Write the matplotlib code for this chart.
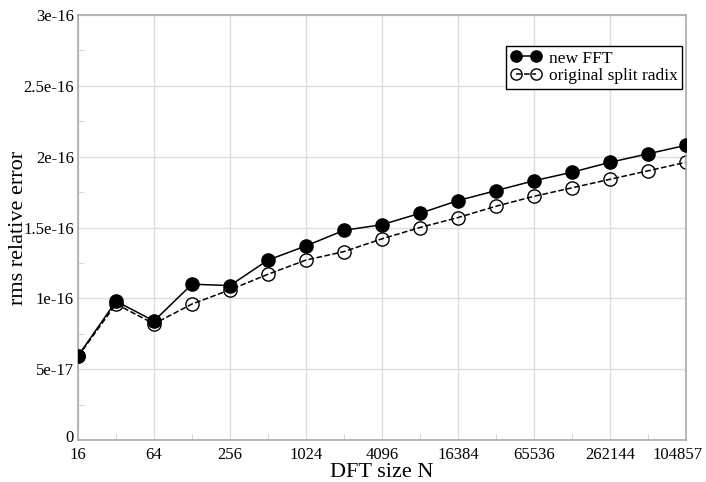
import numpy as np
import matplotlib.pyplot as plt
import matplotlib.transforms as mtransforms
from matplotlib.ticker import FixedLocator, MultipleLocator, NullFormatter

plt.rcParams['font.family'] = ['Liberation Serif', 'DejaVu Serif']

# dati
sizes = [16, 32, 64, 128, 256, 512, 1024, 2048, 4096, 8192, 16384,
         32768, 65536, 131072, 262144, 524288, 1048576]
new_fft = [0.593, 0.98, 0.84, 1.10, 1.09, 1.27, 1.37, 1.48, 1.52, 1.60,
           1.69, 1.76, 1.83, 1.89, 1.96, 2.02, 2.08]
split_radix = [0.59, 0.96, 0.82, 0.96, 1.06, 1.17, 1.27, 1.33, 1.42, 1.50,
               1.57, 1.65, 1.72, 1.78, 1.84, 1.90, 1.96]
x_ticks = [16, 64, 256, 1024, 4096, 16384, 65536, 262144, 1048576]
x_minor = [32, 128, 512, 2048, 8192, 32768, 131072, 524288]
x_labels = ['16', '64', '256', '1024', '4096', '16384', '65536', '262144', '104857']
y_ticks = [0, 0.5e-16, 1e-16, 1.5e-16, 2e-16, 2.5e-16, 3e-16]
y_labels = ['0', '5e-17', '1e-16', '1.5e-16', '2e-16', '2.5e-16', '3e-16']

fig = plt.figure(figsize=(7.06, 4.82), dpi=100)
ax = fig.add_axes([0.1105, 0.0871, 0.861, 0.8818])

ax.set_xscale('log', base=2)
ax.plot(sizes, np.array(new_fft) * 1e-16, '-', color='black', linewidth=1.1,
        marker='o', markersize=9.5, markerfacecolor='black', markeredgecolor='black',
        label='new FFT', zorder=3)
ax.plot(sizes, np.array(split_radix) * 1e-16, '--', color='black', linewidth=1.1,
        marker='o', markersize=9.5, markerfacecolor='none', markeredgecolor='black',
        label='original split radix', zorder=2)

ax.set_xlim(16, 1048576)
ax.set_ylim(0, 3e-16)
ax.xaxis.set_major_locator(FixedLocator(x_ticks))
ax.xaxis.set_minor_locator(FixedLocator(x_minor))
ax.xaxis.set_minor_formatter(NullFormatter())
ax.set_xticklabels(x_labels)
ax.set_yticks(y_ticks)
ax.set_yticklabels(y_labels)
ax.yaxis.set_minor_locator(MultipleLocator(0.25e-16))
ax.yaxis.set_minor_formatter(NullFormatter())

ax.grid(True, which='major', color='#dddddd', linewidth=1)
for sp in ax.spines.values():
    sp.set_color('#aaaaaa')
    sp.set_linewidth(1.2)
ax.tick_params(axis='both', which='both', direction='in', color='#cccccc',
               labelsize=12, pad=3)
ax.tick_params(axis='x', which='major', pad=5)
ax.tick_params(which='major', length=0)
ax.tick_params(which='minor', length=4)

# l'ultima etichetta è tagliata dal bordo: spostala un po' a sinistra
last = ax.get_xticklabels()[-1]
last.set_transform(last.get_transform() +
                   mtransforms.ScaledTranslation(-6 / 72, 0, fig.dpi_scale_trans))
# lo "0" sta un po' sopra, come nell'originale
zero = ax.get_yticklabels()[0]
zero.set_transform(zero.get_transform() +
                   mtransforms.ScaledTranslation(0, 3 / 72, fig.dpi_scale_trans))

ax.set_xlabel('DFT size N', fontsize=16, labelpad=0)
ax.set_ylabel('rms relative error', fontsize=16)
ax.yaxis.set_label_coords(-0.083, 0.5)

leg = ax.legend(loc='upper right', bbox_to_anchor=(0.9934, 0.927), fontsize=12.5,
                frameon=True, fancybox=False, edgecolor='black', framealpha=1,
                numpoints=2, markerscale=0.85, handlelength=1.8,
                handletextpad=0.4, borderpad=0.25, labelspacing=0.1,
                borderaxespad=0)
leg.get_frame().set_linewidth(1.0)

fig.savefig('out.png', dpi=100)
